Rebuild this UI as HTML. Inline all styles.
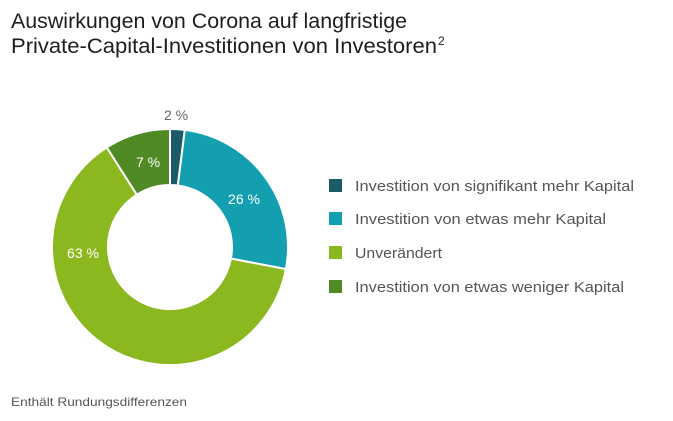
<!DOCTYPE html>
<html><head><meta charset="utf-8"><style>body{margin:0;background:#fff}svg{display:block}</style></head>
<body>
<svg width="673" height="421" xmlns="http://www.w3.org/2000/svg" font-family="Liberation Sans, sans-serif">
<text x="11" y="28" font-size="21" fill="#1e1e1e" textLength="396" lengthAdjust="spacingAndGlyphs">Auswirkungen von Corona auf langfristige</text>
<text x="11" y="53" font-size="21" fill="#1e1e1e" textLength="426" lengthAdjust="spacingAndGlyphs">Private-Capital-Investitionen von Investoren</text>
<text x="438" y="45" font-size="12" fill="#1e1e1e">2</text>
<g stroke="#fff" stroke-width="2">
<path d="M170,129 A118,118 0 0 1 184.8,129.9 L177.8,185.5 A62,62 0 0 0 170,185 Z" fill="#1b5a66"/>
<path d="M184.8,129.9 A118,118 0 0 1 285.9,269.1 L230.9,258.6 A62,62 0 0 0 177.8,185.5 Z" fill="#139fb0"/>
<path d="M285.9,269.1 A118,118 0 1 1 106.8,147.4 L136.8,194.7 A62,62 0 1 0 230.9,258.6 Z" fill="#8cb81f"/>
<path d="M106.8,147.4 A118,118 0 0 1 170,129 L170,185 A62,62 0 0 0 136.8,194.7 Z" fill="#4f8a24"/>
</g>
<g font-size="14" text-anchor="middle">
<text x="176" y="120" fill="#666">2 %</text>
<text x="244" y="204" fill="#fff">26 %</text>
<text x="83" y="258" fill="#fff">63 %</text>
<text x="148" y="167" fill="#fff">7 %</text>
</g>
<g font-size="15" fill="#555">
<rect x="329" y="179" width="13" height="13" fill="#1b5a66"/><text x="355" y="191" textLength="279" lengthAdjust="spacingAndGlyphs">Investition von signifikant mehr Kapital</text>
<rect x="329" y="212" width="13" height="13" fill="#139fb0"/><text x="355" y="224" textLength="251" lengthAdjust="spacingAndGlyphs">Investition von etwas mehr Kapital</text>
<rect x="329" y="246" width="13" height="13" fill="#8cb81f"/><text x="355" y="258" textLength="87" lengthAdjust="spacingAndGlyphs">Unverändert</text>
<rect x="329" y="280" width="13" height="13" fill="#4f8a24"/><text x="355" y="292" textLength="269" lengthAdjust="spacingAndGlyphs">Investition von etwas weniger Kapital</text>
</g>
<text x="11" y="406" font-size="12" fill="#555" textLength="176" lengthAdjust="spacingAndGlyphs">Enthält Rundungsdifferenzen</text>
</svg>
</body></html>
